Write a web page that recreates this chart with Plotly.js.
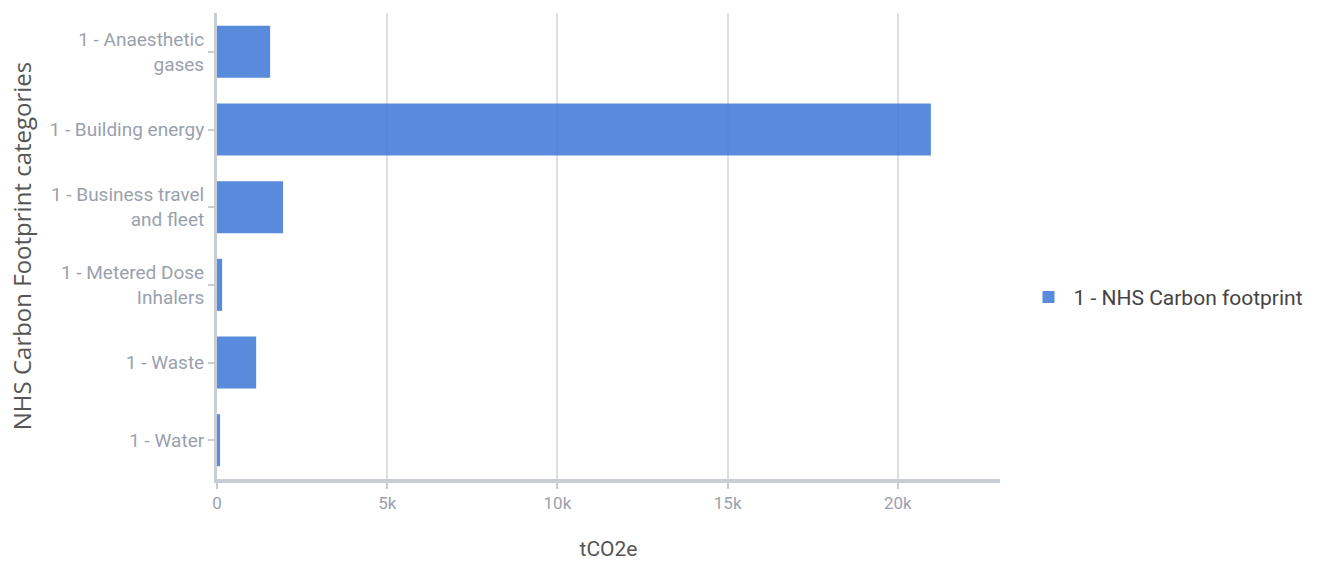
<!DOCTYPE html>
<html>
<head>
<meta charset="utf-8">
<script src="https://cdn.plot.ly/plotly-3.0.1.min.js"></script>
<style>html,body{margin:0;padding:0;background:#fff;}#chart{width:1340px;height:565px;}</style>
</head>
<body>
<div id="chart"></div>
<script>
var categories = ["1 - Anaesthetic<br>gases", "1 - Building energy", "1 - Business travel<br>and fleet", "1 - Metered Dose<br>Inhalers", "1 - Waste", "1 - Water"];
var values = [1560, 20970, 1940, 150, 1150, 90];
var seriesName = "1 - NHS Carbon footprint";
var xTickVals = [0, 5000, 10000, 15000, 20000];
var xTickText = ["0", "5k", "10k", "15k", "20k"];

var fontFam = "'Roboto', sans-serif";

var trace = {
  type: 'bar',
  orientation: 'h',
  y: categories,
  x: values,
  name: seriesName,
  showlegend: true,
  marker: {color: 'rgba(70,126,215,0.9)', line: {width: 0}}
};

var layout = {
  width: 1340, height: 565,
  margin: {l: 217, r: 340, t: 13, b: 86},
  paper_bgcolor: '#fff', plot_bgcolor: '#fff',
  bargap: 0.33,
  font: {family: fontFam, color: '#9aa1ad', size: 15},
  xaxis: {
    range: [0, 23000],
    tickvals: xTickVals, ticktext: xTickText,
    showgrid: true, gridcolor: '#dcdfe4', gridwidth: 2,
    zeroline: false,
    showline: true, linecolor: '#c9cdd4', linewidth: 4,
    ticks: 'outside', ticklen: 6, tickcolor: '#c9cdd4', tickwidth: 2,
    tickfont: {family: fontFam, size: 17, color: '#9aa1ad'},
    title: {text: 'tCO2e', font: {family: fontFam, size: 21, color: '#555'}, standoff: 30}
  },
  yaxis: {
    autorange: 'reversed',
    showgrid: false, zeroline: false,
    showline: true, linecolor: '#c9cdd4', linewidth: 3,
    ticks: 'outside', ticklen: 6, tickcolor: '#c9cdd4', tickwidth: 2,
    tickfont: {family: fontFam, size: 19, color: '#9aa1ad'},
    title: {text: 'NHS Carbon Footprint categories', font: {family: "'Open Sans', sans-serif", size: 24, color: '#555'}, standoff: 12}
  },
  legend: {
    x: 1.03, y: 0.39, xanchor: 'left', yanchor: 'middle',
    font: {family: fontFam, size: 21, color: '#444'},
    itemwidth: 40
  }
};

Plotly.newPlot('chart', [trace], layout, {displayModeBar: false, staticPlot: true});
</script>
</body>
</html>
